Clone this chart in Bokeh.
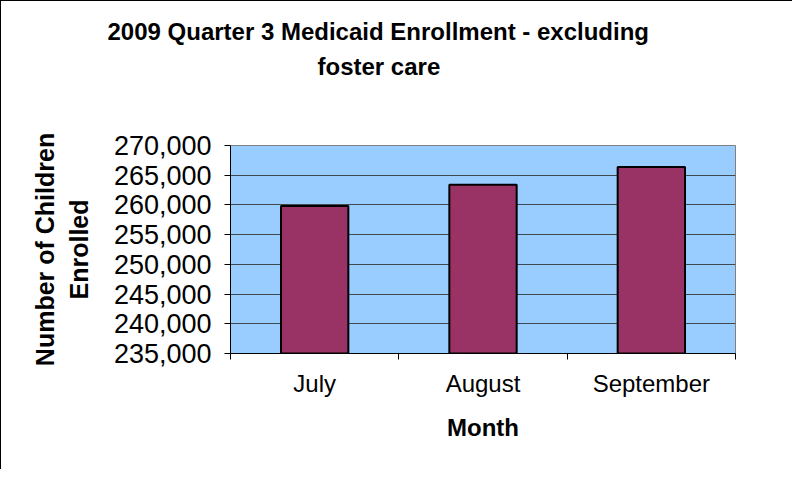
from bokeh.plotting import figure
from bokeh.models import (ColumnDataSource, Range1d, FixedTicker, LinearAxis,
                          NumeralTickFormatter, Title)
from bokeh.embed import file_html
from bokeh.resources import INLINE

months = ["July", "August", "September"]
enrolled = [259800, 263400, 266400]
y_ticks = [235000, 240000, 245000, 250000, 255000, 260000, 265000, 270000]
title_lines = ["2009 Quarter 3 Medicaid Enrollment - excluding", "foster care"]
x_title = "Month"
y_title = "Number of Children\nEnrolled"

FONT = "Liberation Sans"
W, H = 792, 469

# category slots: category i occupies [i, i+1]
centers = [i + 0.5 for i in range(len(months))]
bounds = list(range(len(months) + 1))

src = ColumnDataSource(dict(x=centers, month=months, value=enrolled))

p = figure(width=W, height=H, x_range=Range1d(0, len(months)),
           y_range=Range1d(235000, 270000),
           output_backend="svg", toolbar_location=None,
           x_axis_location=None, y_axis_location=None,
           min_border_left=229, min_border_right=58,
           min_border_top=144, min_border_bottom=117)
p.styles = {"border-top": "1px solid #000000", "border-left": "1px solid #000000"}
p.background_fill_color = "#99CCFF"
p.border_fill_color = "white"
p.outline_line_color = "#808080"
p.outline_line_width = 1

p.vbar(x="x", top="value", bottom=235000, width=0.4, source=src,
       fill_color="#993366", line_color="black", line_width=2)

# y axis
yax = LinearAxis(ticker=FixedTicker(ticks=y_ticks),
                 formatter=NumeralTickFormatter(format="0,0"))
yax.major_tick_out = 6
yax.major_tick_in = 0
yax.minor_tick_out = 0
yax.minor_tick_in = 0
yax.axis_line_color = "black"
yax.major_tick_line_color = "black"
yax.major_label_standoff = 13
yax.major_label_text_font = FONT
yax.major_label_text_font_size = "27px"
yax.major_label_text_color = "black"
yax.axis_label = y_title
yax.axis_label_text_font = FONT
yax.axis_label_text_font_size = "25px"
yax.axis_label_text_font_style = "bold"
yax.axis_label_text_color = "black"
yax.axis_label_standoff = 18
p.add_layout(yax, "left")

# x boundary ticks axis
tax = LinearAxis(ticker=FixedTicker(ticks=bounds),
                 major_label_overrides={b: "" for b in bounds})
tax.major_tick_out = 6
tax.major_tick_in = 0
tax.minor_tick_out = 0
tax.minor_tick_in = 0
tax.axis_line_color = "black"
tax.major_tick_line_color = "black"
tax.major_label_text_font_size = "1px"
tax.major_label_standoff = 0
p.add_layout(tax, "below")

# x category labels axis
xax = LinearAxis(ticker=FixedTicker(ticks=centers),
                 major_label_overrides={c: m for c, m in zip(centers, months)})
xax.axis_line_color = None
xax.major_tick_line_color = None
xax.major_tick_out = 0
xax.major_tick_in = 0
xax.minor_tick_out = 0
xax.minor_tick_in = 0
xax.major_label_standoff = 10
xax.major_label_text_font = FONT
xax.major_label_text_font_size = "24px"
xax.major_label_text_color = "black"
xax.axis_label = x_title
xax.axis_label_text_font = FONT
xax.axis_label_text_font_size = "24px"
xax.axis_label_text_font_style = "bold"
xax.axis_label_text_color = "black"
xax.axis_label_standoff = 14
p.add_layout(xax, "below")

p.xgrid.grid_line_color = None
p.ygrid.ticker = FixedTicker(ticks=y_ticks)
p.ygrid.grid_line_color = "#404850"
p.ygrid.grid_line_width = 1

# invisible spacer between the frame and the title block
spacer = LinearAxis(ticker=FixedTicker(ticks=centers[:1]),
                    major_label_overrides={centers[0]: ""})
spacer.axis_line_color = None
spacer.major_tick_line_color = None
spacer.minor_tick_line_color = None
spacer.major_tick_out = 64
spacer.major_tick_in = 0
spacer.minor_tick_out = 0
spacer.minor_tick_in = 0
spacer.major_label_standoff = 0
spacer.major_label_text_font_size = "1px"
p.add_layout(spacer, "above")

# two-line chart title, stacked above the spacer (inner line added first)
title_offsets = [-123, 87]
title_standoffs = [8, 4]
for i in reversed(range(len(title_lines))):
    p.add_layout(Title(text=title_lines[i], align="left", offset=title_offsets[i],
                       standoff=title_standoffs[i], text_font=FONT,
                       text_font_size="24px", text_font_style="bold",
                       text_color="black"), "above")

open("out.html", "w").write(file_html(p, INLINE))
